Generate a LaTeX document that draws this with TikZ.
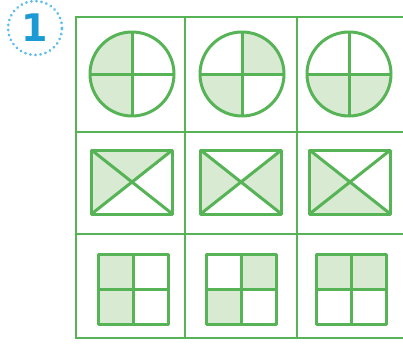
\documentclass[tikz,border=0pt]{standalone}
\usepackage{fontspec}
\newfontfamily\badgefont{DejaVu Sans}
\definecolor{gline}{HTML}{56B356}
\definecolor{gfill}{HTML}{D9EAD3}
\definecolor{bnum}{HTML}{1B9AD6}
\definecolor{bdots}{HTML}{5FBDED}
\tikzset{
  gridline/.style={draw=gline, line width=2.2pt},
  shapeline/.style={draw=gline, line width=3pt, line join=round},
  shade/.style={fill=gfill}
}
\begin{document}
\begin{tikzpicture}[x=1pt,y=-1pt]
\useasboundingbox (0,0) rectangle (403,345);
% badge
\draw[bdots, line width=3pt, dash pattern=on 0.1pt off 5pt, line cap=round] (35,28) circle (27pt);
\node[text=bnum, font=\badgefont\bfseries\fontsize{38}{38}\selectfont, inner sep=0pt] (one) at (35,28) {1};
% grid
\draw[gridline] (403,17) -- (76,17) -- (76,338) -- (403,338);
\draw[gridline] (76,132) -- (403,132);
\draw[gridline] (76,234) -- (403,234);
\draw[gridline] (185,17) -- (185,338);
\draw[gridline] (297,17) -- (297,338);
% circles: shaded quadrants
\foreach \cx/\cy/\sx/\sy in {132/74/-1/-1, 132/74/-1/1, 242/74/1/-1, 242/74/-1/1, 349/74/-1/1, 349/74/1/1}{
  \begin{scope}
    \clip (\cx,\cy) rectangle ++(\sx*45,\sy*45);
    \fill[gfill] (\cx,\cy) circle (42pt);
  \end{scope}
}
\foreach \cx/\cy in {132/74, 242/74, 349/74}{
  \draw[shapeline] (\cx,\cy) circle (42pt);
  \draw[shapeline] (\cx-42,\cy) -- (\cx+42,\cy);
  \draw[shapeline] (\cx,\cy-42) -- (\cx,\cy+42);
}
% rectangles with diagonals
\foreach \cx in {132,241,350}{
  \fill[gfill] (\cx-40.5,150) -- (\cx,182) -- (\cx-40.5,214) -- cycle;
}
\fill[gfill] (132-40.5,150) -- (132,182) -- (132+40.5,150) -- cycle;
\fill[gfill] (241+40.5,150) -- (241,182) -- (241+40.5,214) -- cycle;
\fill[gfill] (350-40.5,214) -- (350,182) -- (350+40.5,214) -- cycle;
\foreach \cx in {132,241,350}{
  \draw[shapeline] (\cx-40.5,150) rectangle (\cx+40.5,214);
  \draw[shapeline] (\cx-40.5,150) -- (\cx+40.5,214);
  \draw[shapeline] (\cx+40.5,150) -- (\cx-40.5,214);
}
% squares of four
\foreach \cx/\cy/\sx/\sy in {133/289/-1/-1, 133/289/-1/1, 241.5/289/1/-1, 241.5/289/-1/1, 351/289/-1/-1, 351/289/1/-1}{
  \fill[gfill] (\cx,\cy) rectangle ++(\sx*35,\sy*35);
}
\foreach \cx/\cy in {133/289, 241.5/289, 351/289}{
  \draw[shapeline] (\cx-35,\cy-35) rectangle (\cx+35,\cy+35);
  \draw[shapeline] (\cx-35,\cy) -- (\cx+35,\cy);
  \draw[shapeline] (\cx,\cy-35) -- (\cx,\cy+35);
}
\end{tikzpicture}
\end{document}
